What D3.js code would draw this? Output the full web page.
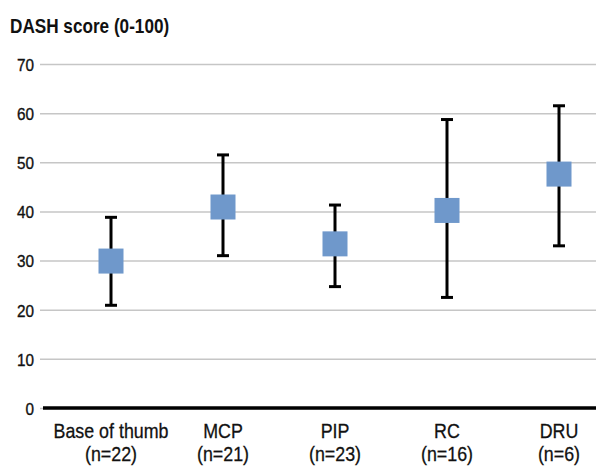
<!DOCTYPE html>
<html>
<head>
<meta charset="utf-8">
<script src="https://cdn.jsdelivr.net/npm/d3@7"></script>
<style>
  html, body { margin: 0; padding: 0; background: #fff; }
  svg { display: block; }
  text { font-family: "Liberation Sans", Arial, sans-serif; fill: #111; }
</style>
</head>
<body>
<script>
// DASH score by joint group: mean with range whiskers
const categories = ["Base of thumb", "MCP", "PIP", "RC", "DRU"];
const groupSizes = ["(n=22)", "(n=21)", "(n=23)", "(n=16)", "(n=6)"];
const means = [29.9, 40.9, 33.4, 40.2, 47.6];
const lows  = [20.9, 31.0, 24.7, 22.5, 33.0];
const highs = [38.8, 51.5, 41.3, 58.7, 61.5];
const yTicks = [0, 10, 20, 30, 40, 50, 60, 70];

const W = 596, H = 466;
const svg = d3.select("body").append("svg").attr("width", W).attr("height", H);

const x = d3.scalePoint().domain(categories).range([111, 559]);
const y = d3.scaleLinear().domain([0, 70]).range([408, 64]);

// Horizontal gridlines with tick labels
const gridLeft = 40;
const yAxis = svg.append("g")
  .attr("transform", `translate(${gridLeft},0)`)
  .call(d3.axisLeft(y).tickValues(yTicks).tickSize(-(W - gridLeft)).tickPadding(6));
yAxis.select(".domain").remove();
yAxis.selectAll(".tick line").attr("stroke", "#c6c6c6").attr("stroke-width", 1.5);
yAxis.selectAll(".tick text")
  .attr("font-size", 17)
  .attr("font-family", "Liberation Sans, Arial, sans-serif")
  .attr("fill", "#111")
  .attr("stroke", "#111").attr("stroke-width", 0.35)
  .attr("x", null)
  .attr("dy", null)
  .attr("dominant-baseline", "central")
  .attr("transform", "translate(-6,0) scale(0.9,1)");

// Baseline at zero
svg.append("line")
  .attr("x1", 43).attr("x2", W)
  .attr("y1", y(0)).attr("y2", y(0))
  .attr("stroke", "#000").attr("stroke-width", 3.5);

// Title
svg.append("text")
  .attr("transform", "translate(10,33) scale(0.88,1)")
  .attr("font-size", 19.5)
  .attr("font-weight", "bold")
  .text("DASH score (0-100)");

// Category labels
const labels = svg.append("g").selectAll("g").data(categories).join("g")
  .attr("stroke", "#111").attr("stroke-width", 0.3);
labels.append("text")
  .attr("transform", d => `translate(${x(d)},438) scale(0.85,1)`)
  .attr("text-anchor", "middle")
  .attr("font-size", 21)
  .text(d => d);
labels.append("text")
  .attr("transform", (d, i) => `translate(${x(d)},461) scale(0.85,1)`)
  .attr("text-anchor", "middle")
  .attr("font-size", 21)
  .text((d, i) => groupSizes[i]);

// Whiskers
const rows = categories.map((c, i) => ({ c, mean: means[i], lo: lows[i], hi: highs[i] }));
const capW = 12;
const marks = svg.append("g").selectAll("g").data(rows).join("g");
marks.append("line")
  .attr("x1", d => x(d.c)).attr("x2", d => x(d.c))
  .attr("y1", d => y(d.lo)).attr("y2", d => y(d.hi))
  .attr("stroke", "#000").attr("stroke-width", 3);
marks.selectAll(".cap").data(d => [{ c: d.c, v: d.lo }, { c: d.c, v: d.hi }]).join("line")
  .attr("class", "cap")
  .attr("x1", d => x(d.c) - capW / 2).attr("x2", d => x(d.c) + capW / 2)
  .attr("y1", d => y(d.v)).attr("y2", d => y(d.v))
  .attr("stroke", "#000").attr("stroke-width", 3);

// Mean markers
const sq = 25;
marks.append("rect")
  .attr("x", d => x(d.c) - sq / 2)
  .attr("y", d => y(d.mean) - sq / 2)
  .attr("width", sq).attr("height", sq)
  .attr("fill", "#6f98cb");
</script>
</body>
</html>
